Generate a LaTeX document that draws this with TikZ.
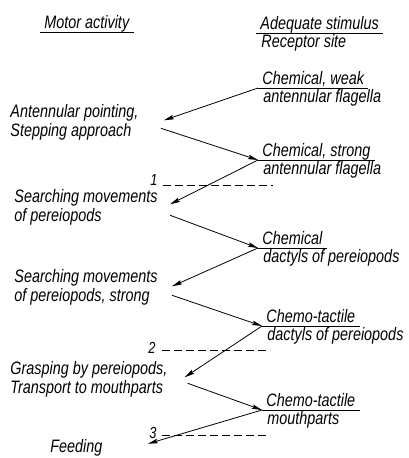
\documentclass[tikz,border=0pt]{standalone}
\usepackage{fontspec}
\setmainfont{Liberation Sans}[FakeStretch=0.8]
\usetikzlibrary{arrows.meta}
\begin{document}
\begin{tikzpicture}[x=1pt,y=-1pt,line width=0.8pt,
  every node/.style={font=\fontsize{18}{19}\selectfont\itshape, inner sep=0pt},
  stim/.style={anchor=south west, inner xsep=4pt, inner ysep=3pt, text depth=0pt},
  site/.style={anchor=north west, inner xsep=5pt, inner ysep=2pt, text height=12pt},
  motor/.style={anchor=north west, align=left},
  num/.style={anchor=east, font=\fontsize{16}{16}\selectfont\itshape},
  act/.style={-{Stealth[length=10pt,width=4.5pt,inset=1.5pt]}},
  thresh/.style={dash pattern=on 8pt off 4pt}]
\useasboundingbox (0,0) rectangle (409,458);
\node[stim] (mot) at (40,32) {Motor activity};
\node[stim] (adeq) at (256,33) {Adequate stimulus};
\node[site] (rec) at (adeq.south west) {Receptor site};
\draw (mot.south west) -- (mot.south east);
\draw (adeq.south west) -- (adeq.south east);
\node[stim] (weak) at (258,88) {Chemical, weak};
\node[site] (weakr) at (weak.south west) {antennular flagella};
\node[stim] (strong) at (258,160) {Chemical, strong};
\node[site] (strongr) at (strong.south west) {antennular flagella};
\node[stim] (chem) at (258,248) {Chemical};
\node[site] (chemr) at (chem.south west) {dactyls of pereiopods};
\node[stim] (tact) at (262,326) {Chemo-tactile};
\node[site] (tactr) at (tact.south west) {dactyls of pereiopods};
\node[stim] (mouth) at (262,410) {Chemo-tactile};
\node[site] (mouthr) at (mouth.south west) {mouthparts};
\foreach \s in {weak,strong,chem,tact,mouth}
  \draw (\s.south west) -- (\s.south east);
\node[motor] (point) at (10,104) {Antennular pointing,\\Stepping approach};
\node[motor] (search) at (14,189) {Searching movements\\of pereiopods};
\node[motor] (searchs) at (14,269) {Searching movements\\of pereiopods, strong};
\node[motor] (grasp) at (10,361) {Grasping by pereiopods,\\Transport to mouthparts};
\node[motor] (feed) at (50,439) {Feeding};
\node[num] (t1) at (158,180) {1};
\node[num] (t2) at (156,348) {2};
\node[num] (t3) at (157,433) {3};
\draw[thresh] (163,185) -- (273,185);
\draw[thresh] (162,350) -- (270,350);
\draw[thresh] (162,435) -- (270,435);
\draw[act] (weak.south west) -- ([xshift=25pt,yshift=2pt]point.east);
\draw[act] ([xshift=22pt,yshift=-6pt]point.east) -- (strong.south west);
\draw[act] (strong.south west) -- ([xshift=12pt,yshift=3pt]search.east);
\draw[act] ([xshift=12pt,yshift=-8pt]search.east) -- (chem.south west);
\draw[act] (chem.south west) -- ([xshift=14pt,yshift=1pt]searchs.east);
\draw[act] ([xshift=14pt,yshift=-8pt]searchs.east) -- (tact.south west);
\draw[act] (tact.south west) -- ([xshift=17pt,yshift=2pt]grasp.east);
\draw[act] ([xshift=20pt,yshift=-4pt]grasp.east) -- (mouth.south west);
\draw[act] (mouth.south west) -- ([xshift=45pt,yshift=4pt]feed.east);
\end{tikzpicture}
\end{document}
